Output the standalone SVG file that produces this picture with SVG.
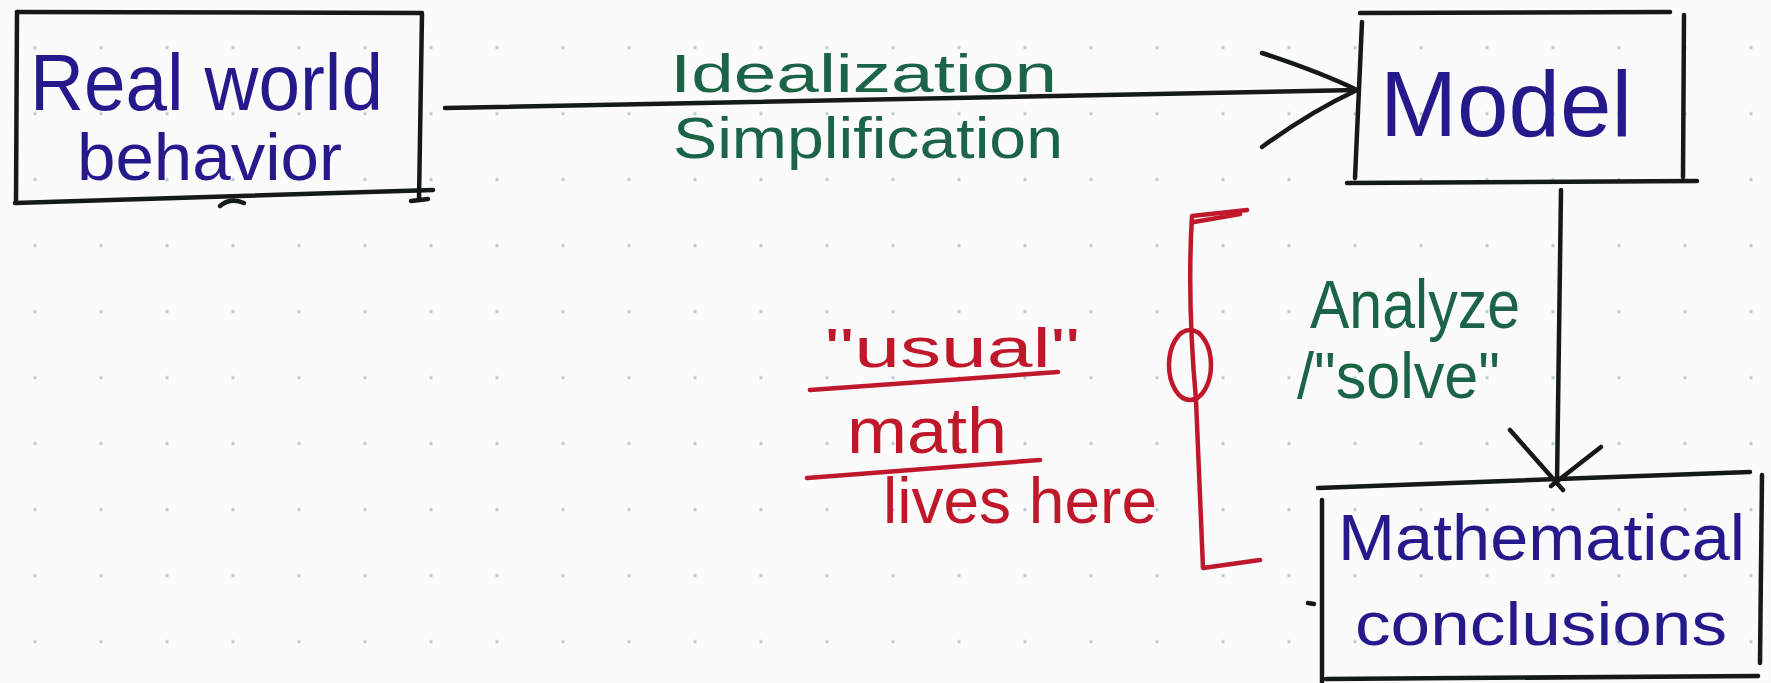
<svg xmlns="http://www.w3.org/2000/svg" width="1771" height="683" viewBox="0 0 1771 683">
<defs>
<pattern id="dots" x="2" y="14.7" width="66" height="66" patternUnits="userSpaceOnUse">
<circle cx="33" cy="33" r="1.7" fill="#b3c8d8"/>
</pattern>
</defs>
<style>
.ink{fill:none;stroke:#161a16;stroke-width:4.5;stroke-linecap:round;stroke-linejoin:round}
.red{fill:none;stroke:#c0182b;stroke-width:4.5;stroke-linecap:round;stroke-linejoin:round}
text{font-family:"Liberation Sans","DejaVu Sans",sans-serif}
.blue{fill:#26198c}
.green{fill:#1c6447}
.redt{fill:#c0182b}
</style>
<rect width="1771" height="683" fill="#fbfbfb"/>
<rect width="1771" height="683" fill="url(#dots)"/>

<g id="connectors">
<path class="ink" d="M445,108 L1357,90"/>
<path class="ink" d="M1262,53 Q1320,72 1357,90 Q1310,112 1262,147"/>
<path class="ink" d="M1561,190 L1557,482"/>
<path class="ink" d="M1510,430 L1563,490"/>
<path class="ink" d="M1601,447 L1551,486"/>
</g>

<g id="node-real-world">
<path class="ink" d="M17,12 L422,13"/>
<path class="ink" d="M17,12 L16,203"/>
<path class="ink" d="M15,203 L433,190"/>
<path class="ink" d="M422,14 L419,200"/>
<path class="ink" d="M411,201 L428,199"/>
<path class="ink" d="M220,206 Q230,197 244,203"/>
<text class="blue" x="30" y="110" font-size="80" textLength="353" lengthAdjust="spacingAndGlyphs">Real world</text>
<text class="blue" x="77" y="180" font-size="66" textLength="265" lengthAdjust="spacingAndGlyphs">behavior</text>
</g>

<g id="label-idealization">
<text class="green" x="670" y="92" font-size="54" textLength="387" lengthAdjust="spacingAndGlyphs">Idealization</text>
<text class="green" x="673" y="158" font-size="58" textLength="390" lengthAdjust="spacingAndGlyphs">Simplification</text>
</g>

<g id="node-model">
<path class="ink" d="M1360,13 L1670,12"/>
<path class="ink" d="M1684,15 L1683,177"/>
<path class="ink" d="M1362,22 L1355,178"/>
<path class="ink" d="M1347,183 L1697,181"/>
<text class="blue" x="1380" y="136" font-size="92" textLength="252" lengthAdjust="spacingAndGlyphs">Model</text>
</g>

<g id="label-analyze">
<text class="green" x="1310" y="328" font-size="68" textLength="210" lengthAdjust="spacingAndGlyphs">Analyze</text>
<text class="green" x="1297" y="398" font-size="64" textLength="203" lengthAdjust="spacingAndGlyphs">/"solve"</text>
</g>

<g id="node-math-conclusions">
<path class="ink" d="M1318,488 L1750,472"/>
<path class="ink" d="M1762,475 L1760,663"/>
<path class="ink" d="M1322,500 L1322,683"/>
<path class="ink" d="M1326,679 L1758,676"/>
<path class="ink" d="M1308,603 L1314,604"/>
<text class="blue" x="1338" y="560" font-size="64" textLength="407" lengthAdjust="spacingAndGlyphs">Mathematical</text>
<text class="blue" x="1355" y="645" font-size="62" textLength="372" lengthAdjust="spacingAndGlyphs">conclusions</text>
</g>

<g id="note-usual-math">
<text class="redt" x="825" y="367" font-size="56" textLength="255" lengthAdjust="spacingAndGlyphs">"usual"</text>
<path class="red" d="M810,390 L1058,372"/>
<text class="redt" x="847" y="453" font-size="64" textLength="160" lengthAdjust="spacingAndGlyphs">math</text>
<path class="red" d="M807,478 L1040,460"/>
<text class="redt" x="883" y="523" font-size="64" textLength="274" lengthAdjust="spacingAndGlyphs">lives here</text>
<path class="red" d="M1247,210 L1192,216 Q1187,300 1196,400 L1203,568 L1260,560"/>
<path class="red" d="M1194,222 L1240,214"/>
<ellipse class="red" cx="1190" cy="365" rx="21" ry="35"/>
</g>
</svg>
